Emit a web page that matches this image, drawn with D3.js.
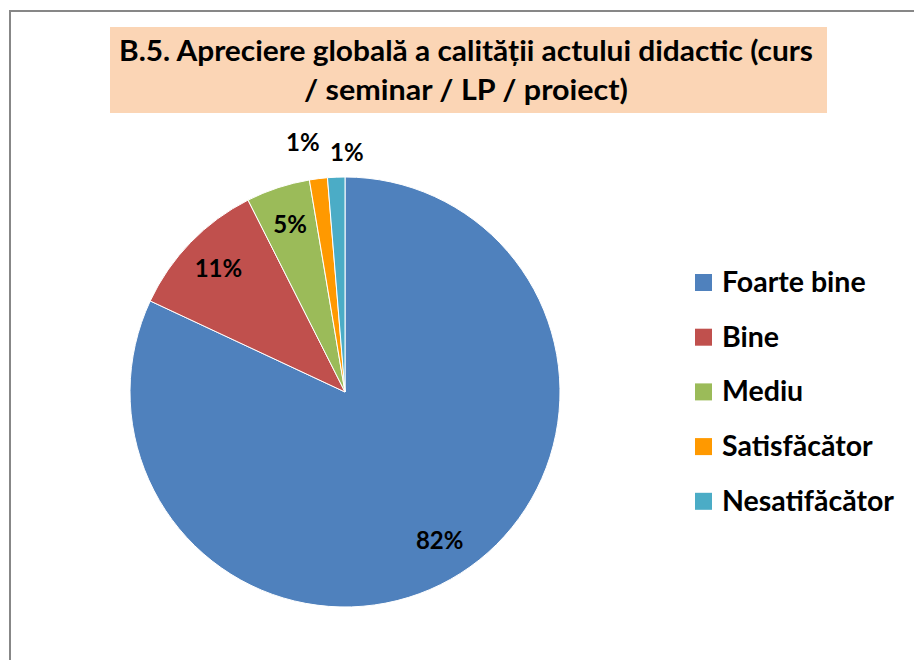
<!DOCTYPE html>
<html>
<head>
<meta charset="utf-8">
<script src="https://cdn.jsdelivr.net/npm/d3@7"></script>
<style>
  html, body { margin: 0; padding: 0; background: #fff; }
  svg { display: block; }
  text { font-family: Lato, "Open Sans", "DejaVu Sans", sans-serif; font-weight: bold; fill: #000; }
</style>
</head>
<body>
<svg id="chart" width="914" height="660"></svg>
<script>
// ---- data ----
const categories = ["Foarte bine", "Bine", "Mediu", "Satisfăcător", "Nesatifăcător"];
const values = [82.0, 10.6, 4.8, 1.35, 1.3];
const colors = ["#4F81BD", "#C0504D", "#9BBB59", "#FF9900", "#4BACC6"];
const titleLines = ["B.5. Apreciere globală a calității actului didactic (curs", "/ seminar / LP / proiect)"];

const svg = d3.select("#chart");
const W = 914, H = 660;

// frame
svg.append("rect").attr("x", 10).attr("y", 11).attr("width", W + 20).attr("height", H + 20)
  .attr("fill", "#fff").attr("stroke", "#878787").attr("stroke-width", 2);

// title
svg.append("rect").attr("x", 110).attr("y", 27).attr("width", 717).attr("height", 86).attr("fill", "#FBD5B5");
const titleWidths = [694, 324];
titleLines.forEach((t, i) => {
  svg.append("text").attr("x", 466).attr("y", 61 + i * 39)
    .attr("text-anchor", "middle").style("font-size", "29px")
    .attr("textLength", titleWidths[i]).attr("lengthAdjust", "spacingAndGlyphs")
    .text(t);
});

// pie
const cx = 345, cy = 392, R = 215;
const total = d3.sum(values);
const pie = d3.pie().sort(null).value(d => d)(values);
const arc = d3.arc().innerRadius(0).outerRadius(R);
const g = svg.append("g").attr("transform", `translate(${cx},${cy})`);
g.selectAll("path").data(pie).join("path")
  .attr("d", arc).attr("fill", (d, i) => colors[i])
  .attr("stroke", "#fff").attr("stroke-width", 1);

// labels
const fmt = d3.format(".0%");
const inner = d3.arc().innerRadius(R * 0.82).outerRadius(R * 0.82);
const outer = d3.arc().innerRadius(R + 30).outerRadius(R + 30);
const labelPos = pie.map((d, i) => {
  const share = d.value / total;
  const c = share > 0.03 ? inner.centroid(d) : outer.centroid(d);
  return { x: c[0], y: c[1], txt: fmt(share), out: share <= 0.03 };
});
// resolve overlap among outside labels
const outs = labelPos.filter(p => p.out);
for (let k = 1; k < outs.length; k++) {
  const a = outs[k - 1], b = outs[k];
  const minGap = 44;
  const dx = b.x - a.x;
  if (dx < minGap) {
    const shift = (minGap - dx) / 2;
    a.x -= shift; b.x += shift;
    a.y -= 6; b.y += 6;
  }
}
g.selectAll("text.lbl").data(labelPos).join("text").attr("class", "lbl")
  .attr("x", d => d.x).attr("y", d => d.y + 8)
  .attr("text-anchor", "middle").style("font-size", "24px").text(d => d.txt);

// legend
const legend = svg.append("g").attr("transform", "translate(695,274)");
const rowH = 54.7;
categories.forEach((c, i) => {
  const row = legend.append("g").attr("transform", `translate(0,${i * rowH})`);
  row.append("rect").attr("width", 17).attr("height", 17).attr("fill", colors[i]);
  row.append("text").attr("x", 27).attr("y", 18).style("font-size", "28.5px").text(c);
});
</script>
</body>
</html>
